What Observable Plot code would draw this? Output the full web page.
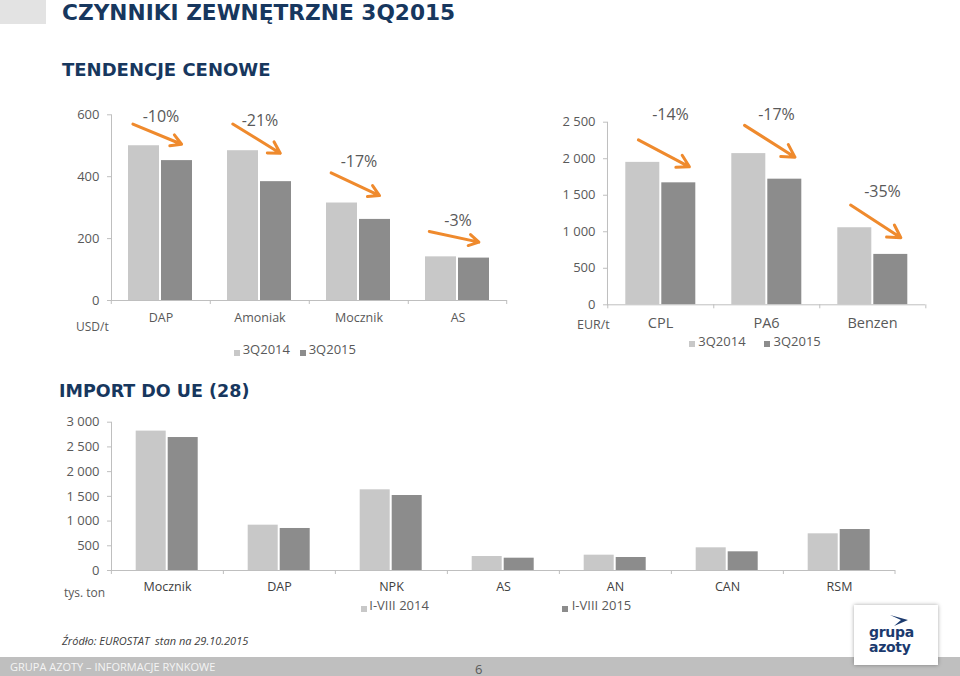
<!DOCTYPE html>
<html><head><meta charset="utf-8">
<script src="https://cdn.jsdelivr.net/npm/d3@7"></script>
<script src="https://cdn.jsdelivr.net/npm/@observablehq/plot@0.6"></script>
<style>
html,body{margin:0;padding:0;background:#fff;}
body{width:960px;height:676px;position:relative;overflow:hidden;font-family:"Open Sans",sans-serif;}
.abs{position:absolute;white-space:nowrap;line-height:1;}
.h{font-family:"DejaVu Sans";font-weight:bold;color:#17375e;}
.chart{position:absolute;}
.chart text{fill:#595959;}
#chartA g[aria-label="fx-axis tick label"]{font-size:12.5px;}
#chartB g[aria-label="fx-axis tick label"]{font-size:14.5px;}
#chartC g[aria-label="fx-axis tick label"]{font-size:12.5px;}
#chartC g[aria-label="fx-axis tick label"] text{fill:#404040;}
.leg{font-size:13px;color:#595959;}
.sw{position:absolute;width:6px;height:6px;}
.unit{color:#595959;}
.logo{font-family:'DejaVu Sans';font-weight:bold;font-size:14px;color:#1b3a6e;letter-spacing:-0.3px;}
</style></head><body>
<div class="abs" style="left:0;top:0;width:46px;height:24px;background:#e3e3e3;"></div>
<div class="abs h" style="left:62px;top:1.6px;font-size:21.7px;">CZYNNIKI ZEWNĘTRZNE 3Q2015</div>
<div class="abs h" style="left:62px;top:61.3px;font-size:18px;">TENDENCJE CENOWE</div>
<div class="abs h" style="left:59px;top:383.2px;font-size:17.5px;">IMPORT DO UE (28)</div>

<div id="chartA" class="chart" style="left:0;top:100px;width:520px;"></div>
<div id="chartB" class="chart" style="left:520px;top:100px;width:440px;"></div>
<div id="chartC" class="chart" style="left:0;top:405px;width:930px;"></div>

<div class="abs unit" style="left:76px;top:320.8px;font-size:12px;">USD/t</div>
<div class="abs unit" style="left:577px;top:319px;font-size:12.5px;">EUR/t</div>
<div class="abs unit" style="left:64px;top:587.3px;font-size:12px;">tys. ton</div>

<div id="legA"></div><div id="legB"></div><div id="legC"></div>

<div class="abs" style="left:62px;top:634.5px;font-size:11px;font-style:italic;color:#404040;">Źródło: EUROSTAT&nbsp; stan na 29.10.2015</div>

<div class="abs" style="left:0;top:656.5px;width:960px;height:20px;background:#bfbfbf;"></div>
<div class="abs" style="left:10px;top:661px;font-size:11px;color:#f4f4f4;">GRUPA AZOTY – INFORMACJE RYNKOWE</div>
<div class="abs" style="left:475px;top:662.5px;font-size:13px;color:#595959;">6</div>

<div class="abs" style="left:854px;top:605px;width:84px;height:60px;background:#fff;box-shadow:0 0 4px rgba(0,0,0,0.35);">
  <svg width="84" height="60" style="position:absolute;left:0;top:0;">
    <path d="M36 10 L54 15 L40 21 L47 15 Z" fill="#1b3a6e"/>
  </svg>
  <div class="abs logo" style="left:15px;top:20px;">grupa</div>
  <div class="abs logo" style="left:15px;top:35px;">azoty</div>
</div>

<script>
// ---- data ----
const quarters = ["3Q2014", "3Q2015"];
const usdProducts = ["DAP", "Amoniak", "Mocznik", "AS"];
const usd3Q2014 = [500, 484, 315, 141];
const usd3Q2015 = [452, 384, 262, 137];
const usdChange = ["-10%", "-21%", "-17%", "-3%"];
const usdLabelAt = [594, 581, 449, 256];
const usdArrowFrom = [555, 550, 396, 215];
const usdArrowTo = [511, 484, 346, 192];
const usdTicks = [0, 200, 400, 600];

const eurProducts = ["CPL", "PA6", "Benzen"];
const eur3Q2014 = [1950, 2070, 1055];
const eur3Q2015 = [1670, 1720, 690];
const eurChange = ["-14%", "-17%", "-35%"];
const eurLabelAt = [2603, 2603, 1540];
const eurArrowFrom = [2226, 2420, 1328];
const eurArrowTo = [1966, 2109, 1008];
const eurTicks = [0, 500, 1000, 1500, 2000, 2500];

const periods = ["I-VIII 2014", "I-VIII 2015"];
const importProducts = ["Mocznik", "DAP", "NPK", "AS", "AN", "CAN", "RSM"];
const importI_VIII2014 = [2820, 917, 1632, 283, 310, 459, 742];
const importI_VIII2015 = [2690, 850, 1517, 249, 263, 378, 829];
const importTicks = [0, 500, 1000, 1500, 2000, 2500, 3000];

const barColors = ["#c8c8c8", "#8c8c8c"];
const fmt = d3.formatLocale({decimal: ",", thousands: " ", grouping: [3], currency: ["", ""]}).format(",");

function grouped({cats, series, a, b, yDomain, yTicks, width, height, margins, pi, po, fxPad, ann, insets, labelDx = 0}) {
  const [mt, mr, mb, ml] = margins;
  const rows = cats.flatMap((c, i) => [{cat: c, s: series[0], v: a[i]}, {cat: c, s: series[1], v: b[i]}]);
  const fw = (width - ml - mr) / cats.length;
  const step = fw / (2 - pi + 2 * po);
  const off = po * step + step * (1 - pi) / 2;
  const tickStyle = {stroke: "#bfbfbf", y1: 0, y2: 0, insetBottom: -4};
  const marks = [
    Plot.barY(rows, {fx: "cat", x: "s", y: "v", fill: "s"}),
    Plot.ruleY([0], {stroke: "#bfbfbf"}),
    Plot.ruleX(cats, {...tickStyle, fx: d => d, x: () => series[0], dx: -off}),
    Plot.ruleX(cats.slice(-1), {...tickStyle, fx: d => d, x: () => series[1], dx: off})
  ];
  if (ann) {
    marks.push(
      Plot.arrow(ann, {fx: "cat", x1: () => series[0], x2: () => series[1], y1: "from", y2: "to",
        stroke: "#ef8a2d", strokeWidth: 3, insetStart: insets[0], insetEnd: insets[1]}),
      Plot.text(ann, {fx: "cat", y: "at", text: "label", fontSize: 16, dx: labelDx})
    );
  }
  return Plot.plot({
    width, height, marginTop: mt, marginRight: mr, marginBottom: mb, marginLeft: ml,
    style: {fontFamily: "Open Sans", fontSize: "13px", color: "#bfbfbf", background: "transparent", overflow: "visible"},
    fx: {domain: cats, padding: 0, axis: "bottom", label: null, tickSize: 0, tickPadding: fxPad},
    x: {domain: series, paddingInner: pi, paddingOuter: po, axis: null},
    y: {domain: yDomain, ticks: yTicks, tickFormat: fmt, tickSize: 4, tickPadding: 8, line: true, label: null},
    color: {domain: series, range: barColors},
    marks
  });
}

const annUSD = usdProducts.map((c, i) => ({cat: c, label: usdChange[i], at: usdLabelAt[i], from: usdArrowFrom[i], to: usdArrowTo[i]}));
const annEUR = eurProducts.map((c, i) => ({cat: c, label: eurChange[i], at: eurLabelAt[i], from: eurArrowFrom[i], to: eurArrowTo[i]}));

document.getElementById("chartA").append(grouped({
  cats: usdProducts, series: quarters, a: usd3Q2014, b: usd3Q2015,
  yDomain: [0, 600], yTicks: usdTicks, width: 520, height: 240, margins: [14.3, 12, 40, 110],
  pi: 0.06, po: 0.49, fxPad: 13, ann: annUSD, insets: [-12, -5]
}));
document.getElementById("chartB").append(grouped({
  cats: eurProducts, series: quarters, a: eur3Q2014, b: eur3Q2015,
  yDomain: [0, 2500], yTicks: eurTicks, width: 440, height: 240, margins: [21.7, 35, 35.7, 86.7],
  pi: 0.0556, po: 0.5, fxPad: 13, ann: annEUR, insets: [-5, -12], labelDx: 10
}));
document.getElementById("chartC").append(grouped({
  cats: importProducts, series: periods, a: importI_VIII2014, b: importI_VIII2015,
  yDomain: [0, 3000], yTicks: importTicks, width: 930, height: 195, margins: [16.7, 33.3, 30, 108.3],
  pi: 0.0606, po: 0.737, fxPad: 12
}));

// legends
function legend(id, items, top) {
  const host = document.getElementById(id);
  items.forEach(([label, color, swLeft, textLeft]) => {
    const sw = document.createElement("div");
    sw.className = "sw";
    sw.style.cssText = `left:${swLeft}px;top:${top + 6.7}px;background:${color};`;
    const t = document.createElement("div");
    t.className = "abs leg";
    t.style.cssText = `left:${textLeft}px;top:${top}px;`;
    t.textContent = label;
    host.append(sw, t);
  });
}
legend("legA", [[quarters[0], barColors[0], 234, 242.7], [quarters[1], barColors[1], 300, 308.7]], 342.8);
legend("legB", [[quarters[0], barColors[0], 689, 698.3], [quarters[1], barColors[1], 764, 773.5]], 334.5);
legend("legC", [[periods[0], barColors[0], 360.5, 369.3], [periods[1], barColors[1], 562.3, 571.7]], 599.2);
</script>
</body></html>
